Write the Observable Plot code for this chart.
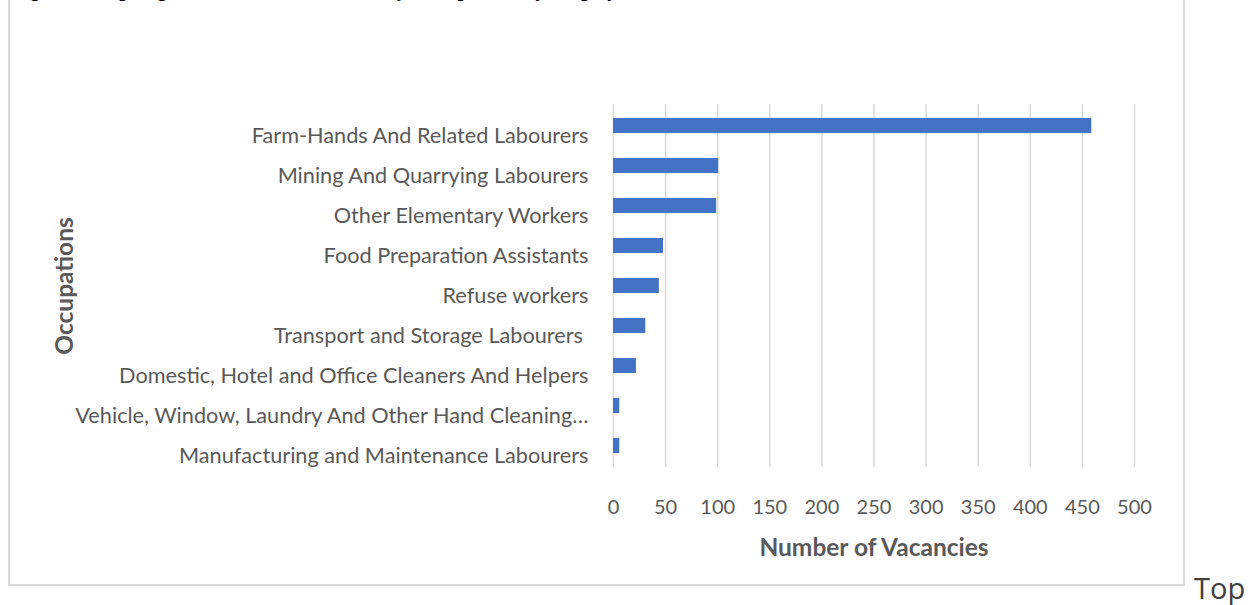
<!DOCTYPE html>
<html>
<head>
<meta charset="utf-8">
<script src="https://cdn.jsdelivr.net/npm/d3@7"></script>
<script src="https://cdn.jsdelivr.net/npm/@observablehq/plot@0.6"></script>
<style>
  html, body { margin: 0; padding: 0; background: #fff; width: 1254px; height: 605px; overflow: hidden; }
  #wrap { position: relative; width: 1254px; height: 605px; }
  #frame { position: absolute; left: 8px; top: -4px; width: 1173px; height: 586px; border: 2px solid #d9d9d9; box-sizing: content-box; }
  #title { position: absolute; left: 12px; top: -23px; font-family: "Liberation Serif", serif; font-weight: bold; font-style: italic; font-size: 21px; color: #000; white-space: nowrap; }
  #top { position: absolute; left: 1194px; top: 568px; font-family: "Open Sans", sans-serif; font-size: 29px; color: #404040; }
  #chart { position: absolute; left: 0; top: 0; }
</style>
</head>
<body>
<div id="wrap">
  <div id="title">Figure 6: Top Highest Demanded Elementary Occupations by Employers</div>
  <div id="frame"></div>
  <div id="chart"></div>
  <div id="top">Top</div>
</div>
<script>
const occupations = [
  "Farm-Hands And Related Labourers",
  "Mining And Quarrying Labourers",
  "Other Elementary Workers",
  "Food Preparation Assistants",
  "Refuse workers",
  "Transport and Storage Labourers ",
  "Domestic, Hotel and Office Cleaners And Helpers",
  "Vehicle, Window, Laundry And Other Hand Cleaning…",
  "Manufacturing and Maintenance Labourers"
];
const vacancies = [459, 101, 99, 48, 44, 31, 22, 6, 6];
const xTicks = [0, 50, 100, 150, 200, 250, 300, 350, 400, 450, 500];

const data = occupations.map((o, i) => ({occupation: o, value: vacancies[i]}));

const chart = Plot.plot({
  width: 1254,
  height: 605,
  marginLeft: 613,
  marginRight: 120,
  marginTop: 104,
  marginBottom: 138,
  style: {fontFamily: "Lato, sans-serif", background: "transparent", overflow: "visible"},
  x: {domain: [0, 500], ticks: xTicks},
  y: {domain: occupations, paddingInner: 0.62, paddingOuter: 0.31},
  marks: [
    Plot.gridX(xTicks, {stroke: "#d9d9d9", strokeOpacity: 1, strokeWidth: 1.5}),
    Plot.barX(data, {x: "value", y: "occupation", fill: "#4472C4"}),
    Plot.axisX(xTicks, {tickSize: 0, tickPadding: 32, fontSize: 20, fill: "#595959", label: null}),
    Plot.axisY({tickSize: 0, tickPadding: 25, dy: 10, fontSize: 21.7, fill: "#595959", label: null}),
    Plot.text(["Number of Vacancies"], {frameAnchor: "bottom", dy: 88, fontSize: 24.5, fontWeight: "bold", fill: "#595959"}),
    Plot.text(["Occupations"], {frameAnchor: "left", dx: -548, textAnchor: "middle", rotate: -90, fontSize: 24.5, fontWeight: "bold", fill: "#595959"})
  ]
});
document.getElementById("chart").appendChild(chart);
</script>
</body>
</html>
